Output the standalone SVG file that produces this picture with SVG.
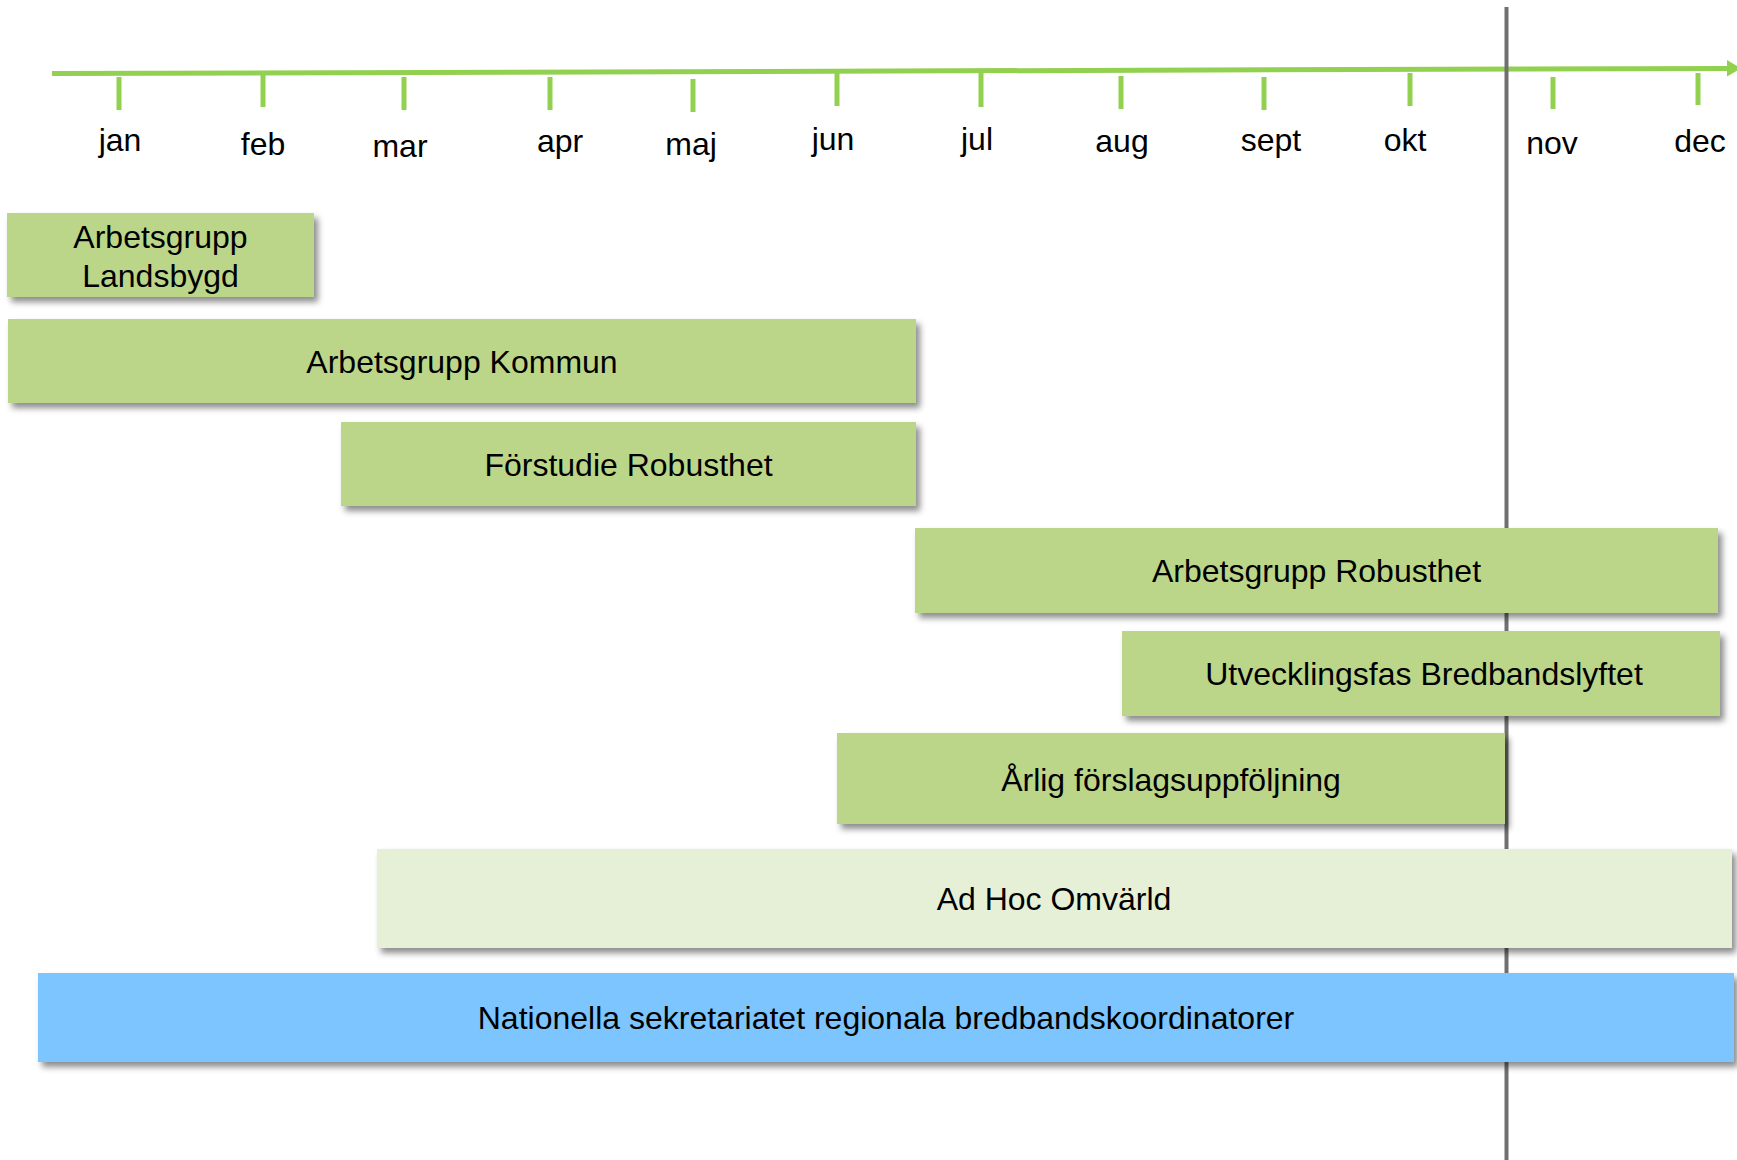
<svg xmlns="http://www.w3.org/2000/svg" width="1737" height="1160" viewBox="0 0 1737 1160">
<defs>
<filter id="sh" x="-5%" y="-20%" width="112%" height="150%">
<feDropShadow dx="4" dy="5" stdDeviation="3" flood-color="#000" flood-opacity="0.45"/>
</filter>
<style>
text{font-family:"Liberation Sans",Arial,sans-serif;font-size:32px;fill:#000;text-anchor:middle}
.tick{stroke:#92D050;stroke-width:5}
.g{fill:#BCD689;filter:url(#sh)}
.l{fill:#E6F0D7;filter:url(#sh)}
.b{fill:#7DC5FE;filter:url(#sh)}
</style>
</defs>
<rect width="1737" height="1160" fill="#fff"/>
<g id="timeline">
<line x1="52" y1="73.5" x2="1730" y2="68.5" stroke="#92D050" stroke-width="5"/>
<polygon points="1727,60 1741,68.3 1727,76.5" fill="#92D050"/>
<line class="tick" x1="119" y1="77" x2="119" y2="110"/>
<line class="tick" x1="263" y1="75" x2="263" y2="107"/>
<line class="tick" x1="404" y1="77" x2="404" y2="110"/>
<line class="tick" x1="550" y1="77" x2="550" y2="110"/>
<line class="tick" x1="693" y1="79" x2="693" y2="112"/>
<line class="tick" x1="837" y1="73" x2="837" y2="106"/>
<line class="tick" x1="981" y1="73" x2="981" y2="107"/>
<line class="tick" x1="1121" y1="76" x2="1121" y2="109"/>
<line class="tick" x1="1264" y1="77" x2="1264" y2="110"/>
<line class="tick" x1="1410" y1="73" x2="1410" y2="106"/>
<line class="tick" x1="1553" y1="77" x2="1553" y2="109"/>
<line class="tick" x1="1698" y1="73" x2="1698" y2="105"/>
<text x="120" y="151">jan</text>
<text x="263" y="155">feb</text>
<text x="400" y="157">mar</text>
<text x="560" y="152">apr</text>
<text x="691" y="155">maj</text>
<text x="833" y="150">jun</text>
<text x="977" y="150">jul</text>
<text x="1122" y="152">aug</text>
<text x="1271" y="151">sept</text>
<text x="1405" y="151">okt</text>
<text x="1552" y="154">nov</text>
<text x="1700" y="152">dec</text>
</g>
<g id="connectors">
<line id="today" x1="1506.5" y1="7" x2="1506.5" y2="1160" stroke="#707070" stroke-width="4"/>
</g>
<g id="arbetsgrupp-landsbygd">
<rect class="g" x="7" y="213" width="307" height="84"/>
<text x="160.5" y="248">Arbetsgrupp</text>
<text x="160.5" y="287">Landsbygd</text>
</g>
<g id="arbetsgrupp-kommun">
<rect class="g" x="8" y="319" width="908" height="84"/>
<text x="462" y="373">Arbetsgrupp Kommun</text>
</g>
<g id="forstudie-robusthet">
<rect class="g" x="341" y="422" width="575" height="84"/>
<text x="628.5" y="476">Förstudie Robusthet</text>
</g>
<g id="arbetsgrupp-robusthet">
<rect class="g" x="915" y="528" width="803" height="85"/>
<text x="1316.5" y="582">Arbetsgrupp Robusthet</text>
</g>
<g id="utvecklingsfas">
<rect class="g" x="1122" y="631" width="598" height="85"/>
<text x="1424" y="685">Utvecklingsfas Bredbandslyftet</text>
</g>
<g id="arlig-forslagsuppfoljning">
<rect class="g" x="837" y="733" width="668" height="91"/>
<text x="1171" y="791">Årlig förslagsuppföljning</text>
</g>
<g id="ad-hoc-omvarld">
<rect class="l" x="377" y="849" width="1355" height="99"/>
<text x="1054" y="910">Ad Hoc Omvärld</text>
</g>
<g id="nationella-sekretariatet">
<rect class="b" x="38" y="973" width="1696" height="89"/>
<text x="886" y="1029">Nationella sekretariatet regionala bredbandskoordinatorer</text>
</g>
</svg>
